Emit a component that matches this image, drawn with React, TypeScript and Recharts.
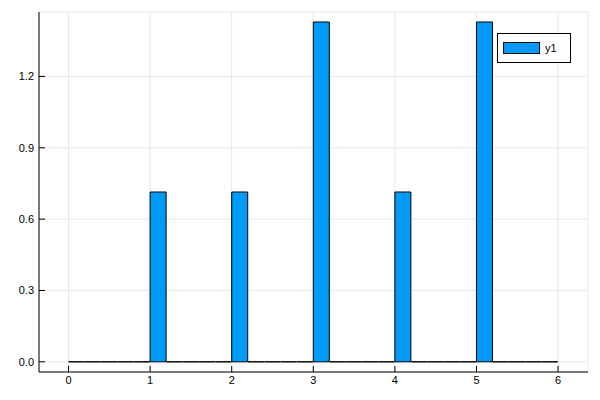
import { BarChart, Bar, XAxis, YAxis, CartesianGrid, Legend } from "recharts";

// histogram bins (centres) and density values
const binCenters = [
  0.1, 0.3, 0.5, 0.7, 0.9, 1.1, 1.3, 1.5, 1.7, 1.9,
  2.1, 2.3, 2.5, 2.7, 2.9, 3.1, 3.3, 3.5, 3.7, 3.9,
  4.1, 4.3, 4.5, 4.7, 4.9, 5.1, 5.3, 5.5, 5.7, 5.9,
];
const density = [
  0, 0, 0, 0, 0, 0.714, 0, 0, 0, 0,
  0.714, 0, 0, 0, 0, 1.429, 0, 0, 0, 0,
  0.714, 0, 0, 0, 0, 1.429, 0, 0, 0, 0,
];

const xTicks = [0, 1, 2, 3, 4, 5, 6];
const yTicks = [0, 0.3, 0.6, 0.9, 1.2];

const data = binCenters.map((x, i) => ({ x, y1: density[i] }));

const font = "'Liberation Sans', Arial, sans-serif";

// path instead of rect so empty bins still show their outline on the baseline
const BinRect = (props: any) => {
  const { x, y, width, height } = props;
  const h = height || 0;
  return (
    <path
      d={`M${x},${y}h${width}v${h}h${-width}Z`}
      fill="#009AF9"
      stroke="#000"
      strokeWidth={1}
    />
  );
};

const renderLegend = () => (
  <div
    style={{
      width: 72,
      height: 28,
      border: "1px solid #000",
      background: "#fff",
      display: "flex",
      alignItems: "center",
      fontFamily: font,
      fontSize: 11,
    }}
  >
    <div
      style={{
        width: 35,
        height: 10,
        marginLeft: 5,
        background: "#009AF9",
        border: "1px solid #000",
      }}
    />
    <span style={{ marginLeft: 5 }}>y1</span>
  </div>
);

export default function App() {
  return (
    <div style={{ position: "absolute", left: 0, top: 0, background: "#fff" }}>
      <BarChart
        width={600}
        height={400}
        data={data}
        margin={{ top: 12, right: 12, bottom: 0, left: 0 }}
        barCategoryGap={0}
      >
        <CartesianGrid stroke="#e8e8e8" strokeWidth={1} />
        <XAxis
          dataKey="x"
          type="number"
          domain={[-0.362, 6.367]}
          ticks={xTicks}
          height={28}
          stroke="#000"
          tickSize={-6}
          tickMargin={10}
          tick={{ fill: "#000", fontSize: 11, fontFamily: font }}
          allowDataOverflow
        />
        <YAxis
          type="number"
          domain={[-0.0429, 1.471]}
          ticks={yTicks}
          width={39}
          stroke="#000"
          tickSize={-6}
          tickMargin={11}
          tickFormatter={(v: number) => v.toFixed(1)}
          tick={{ fill: "#000", fontSize: 11, fontFamily: font }}
          allowDataOverflow
        />
        <Legend
          content={renderLegend}
          layout="vertical"
          align="center"
          verticalAlign="middle"
          wrapperStyle={{ position: "absolute", left: 497, top: 33, width: "auto" }}
        />
        <Bar dataKey="y1" shape={BinRect} isAnimationActive={false} />
      </BarChart>
    </div>
  );
}
